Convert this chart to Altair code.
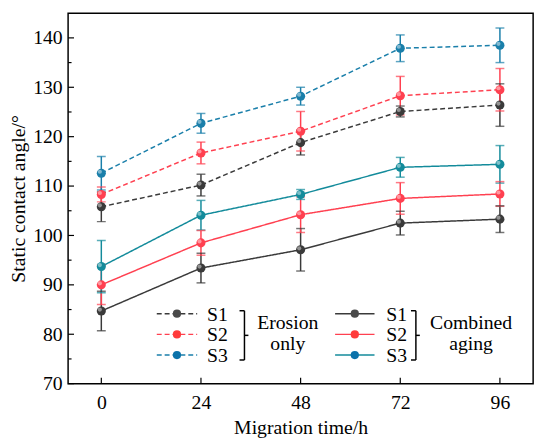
import altair as alt
import pandas as pd

times = [0, 24, 48, 72, 96]
samples = ["S1", "S2", "S3"]

ero_s1 = [105.8, 110.2, 118.8, 125.1, 126.4]
ero_s1_err = [3.0, 2.2, 2.5, 1.1, 4.3]
ero_s2 = [108.3, 116.7, 121.1, 128.3, 129.5]
ero_s2_err = [1.5, 2.2, 4.0, 3.9, 4.3]
ero_s3 = [112.6, 122.7, 128.2, 137.9, 138.5]
ero_s3_err = [3.4, 2.0, 1.8, 2.7, 3.5]

com_s1 = [84.7, 93.4, 97.1, 102.5, 103.3]
com_s1_err = [4.0, 3.0, 4.3, 2.4, 2.7]
com_s2 = [90.0, 98.5, 104.2, 107.5, 108.4]
com_s2_err = [4.0, 2.5, 3.6, 3.2, 2.5]
com_s3 = [93.7, 104.1, 108.3, 113.8, 114.4]
com_s3_err = [5.3, 3.0, 1.0, 2.0, 3.8]

y_major = [70, 80, 90, 100, 110, 120, 130, 140]
y_minor = [75, 85, 95, 105, 115, 125, 135]

FONT = "Liberation Serif"
W, H = 472, 376

series = [
    ("Erosion only", "S1", ero_s1, ero_s1_err),
    ("Erosion only", "S2", ero_s2, ero_s2_err),
    ("Erosion only", "S3", ero_s3, ero_s3_err),
    ("Combined aging", "S1", com_s1, com_s1_err),
    ("Combined aging", "S2", com_s2, com_s2_err),
    ("Combined aging", "S3", com_s3, com_s3_err),
]
rows = []
for grp, s, vals, errs in series:
    for t, v, e in zip(times, vals, errs):
        rows.append({"time": t, "value": v, "lo": v - e, "hi": v + e,
                     "sample": s, "group": grp, "key": grp + " " + s})
df = pd.DataFrame(rows)

keys = [g + " " + s for g, s, _, _ in series]
line_colors = ["#3a3a3a", "#ff4050", "#1a7faa", "#3a3a3a", "#ff4050", "#138b9b"]
mark_colors = ["#4a4a4a", "#ff3b3b", "#0b72aa", "#4a4a4a", "#ff3b3b", "#0b72aa"]

xs = alt.Scale(domain=[-8, 104], nice=False, zero=False)
ys = alt.Scale(domain=[70, 145], nice=False, zero=False)
X = alt.X("time:Q", scale=xs,
          axis=alt.Axis(values=times, title="Migration time/h", labelPadding=9,
                        titlePadding=6))
Y = alt.Y("value:Q", scale=ys,
          axis=alt.Axis(values=y_major, title="Static contact angle/°", labelPadding=6,
                        titlePadding=4))
lc = alt.Color("key:N", scale=alt.Scale(domain=keys, range=line_colors), legend=None)
mc = alt.Color("key:N", scale=alt.Scale(domain=keys, range=mark_colors), legend=None)
dash = alt.StrokeDash("group:N", scale=alt.Scale(domain=["Erosion only", "Combined aging"],
                                                  range=[[5, 3], [1, 0]]), legend=None)

base = alt.Chart(df)
lines = base.mark_line(strokeWidth=1.5).encode(x=X, y=Y, color=lc, strokeDash=dash, detail="key:N")
ebar = base.mark_rule(strokeWidth=1.5).encode(x="time:Q", y=alt.Y("lo:Q", scale=ys), y2="hi:Q", color=mc)
cap_lo = base.mark_tick(orient="horizontal", size=9, thickness=1.5).encode(
    x="time:Q", y=alt.Y("lo:Q", scale=ys), color=mc)
cap_hi = base.mark_tick(orient="horizontal", size=9, thickness=1.5).encode(
    x="time:Q", y=alt.Y("hi:Q", scale=ys), color=mc)
pts = base.mark_circle(size=85, opacity=1).encode(x="time:Q", y="value:Q", color=mc)
hl = base.mark_circle(size=18, opacity=0.45, color="white", xOffset=-1.5, yOffset=-1.5).encode(
    x="time:Q", y="value:Q")

# inward ticks
tdf_major = pd.DataFrame({"v": y_major})
tdf_minor = pd.DataFrame({"v": y_minor})
tdf_x = pd.DataFrame({"t": times})
yt_major = alt.Chart(tdf_major).mark_rule(color="black", strokeWidth=1.2).encode(
    y=alt.Y("v:Q", scale=ys), x=alt.value(0), x2=alt.value(6))
yt_minor = alt.Chart(tdf_minor).mark_rule(color="black", strokeWidth=1.2).encode(
    y=alt.Y("v:Q", scale=ys), x=alt.value(0), x2=alt.value(3.5))
xt = alt.Chart(tdf_x).mark_rule(color="black", strokeWidth=1.2).encode(
    x=alt.X("t:Q", scale=xs), y=alt.value(H), y2=alt.value(H - 6))

# custom legend
legend_layers = []
row_y = [305, 326, 347]
blocks = [
    ("Erosion only", 90, 131, 141, 179, ["Erosion", "only"], 223, [5, 3]),
    ("Combined aging", 271, 311, 323, 353, ["Combined", "aging"], 409, [1, 0]),
]
one = tdf_x.head(1)
for bi, (grp, lx1, lx2, tx, bx, words, wx, dsh) in enumerate(blocks):
    for si, s in enumerate(samples):
        idx = bi * 3 + si
        yy = row_y[si]
        legend_layers.append(alt.Chart(one).mark_rule(
            color=line_colors[idx], strokeWidth=1.5, strokeDash=dsh).encode(
            x=alt.value(lx1), x2=alt.value(lx2), y=alt.value(yy)))
        legend_layers.append(alt.Chart(one).mark_circle(
            size=70, opacity=1, color=mark_colors[idx]).encode(
            x=alt.value((lx1 + lx2) / 2), y=alt.value(yy)))
        legend_layers.append(alt.Chart(one).mark_text(
            text=s, font=FONT, fontSize=20, align="left", baseline="middle", color="black").encode(
            x=alt.value(tx), y=alt.value(yy + 1)))
    # brace
    top, bot = 302, 352
    mid = (top + bot) / 2
    for (a, b, c, d) in [(bx - 5, bx, top, top), (bx - 5, bx, bot, bot), (bx, bx + 4, mid, mid)]:
        legend_layers.append(alt.Chart(one).mark_rule(color="black", strokeWidth=1.5).encode(
            x=alt.value(a), x2=alt.value(b), y=alt.value(c), y2=alt.value(d)))
    legend_layers.append(alt.Chart(one).mark_rule(color="black", strokeWidth=1.5).encode(
        x=alt.value(bx), y=alt.value(top), y2=alt.value(bot)))
    for wi, w in enumerate(words):
        legend_layers.append(alt.Chart(one).mark_text(
            text=w, font=FONT, fontSize=20, align="center", baseline="middle", color="black").encode(
            x=alt.value(wx), y=alt.value(315 + wi * 21)))

chart = alt.layer(lines, ebar, cap_lo, cap_hi, pts, hl, yt_major, yt_minor, xt, *legend_layers).properties(
    width=W, height=H, autosize=alt.AutoSizeParams(type="none"),
    padding={"left": 61, "top": 2, "right": 9, "bottom": 58},
).configure_view(stroke="black", strokeWidth=1.5).configure_axis(
    ticks=False, domain=False, grid=False, labelFont=FONT, titleFont=FONT,
    labelFontSize=20, titleFontSize=20, labelColor="black", titleColor="black",
    titleFontWeight="normal",
)

chart.save("out.html", embed_options={"renderer": "svg", "actions": False})
